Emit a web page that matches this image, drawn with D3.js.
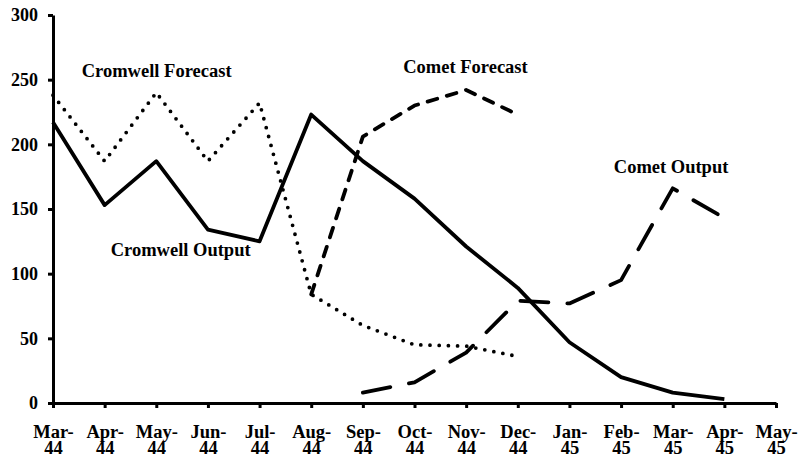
<!DOCTYPE html>
<html>
<head>
<meta charset="utf-8">
<script src="https://cdn.jsdelivr.net/npm/d3@7"></script>
<style>
  body { margin: 0; background: #fff; }
  .domain, .tick line { stroke: #000; stroke-width: 3; }
  .series { fill: none; stroke: #000; stroke-width: 3.8; stroke-linejoin: round; }
</style>
</head>
<body>
<svg id="chart" width="799" height="457"></svg>
<script>
const months = ["Mar-44","Apr-44","May-44","Jun-44","Jul-44","Aug-44","Sep-44","Oct-44",
                "Nov-44","Dec-44","Jan-45","Feb-45","Mar-45","Apr-45","May-45"];

const cromwellOutput   = [217,153,187,134,125,223,187,158,121,89,47,20,8,3,null];
const cromwellForecast = [238,187,240,187,232,84,60,45,44,36,null,null,null,null,null];
const cometForecast    = [null,null,null,null,null,84,206,230,242,223,null,null,null,null,null];
const cometOutput      = [null,null,null,null,null,null,8,16,39,79,77,95,166,143,null];

const yTicks = [0,50,100,150,200,250,300];

const labels = [
  {text:"Cromwell Forecast", month:"Apr-44", v:252, dx:52},
  {text:"Cromwell Output",   month:"Apr-44", v:114, dx:76},
  {text:"Comet Forecast",    month:"Oct-44", v:255, dx:51},
  {text:"Comet Output",      month:"Feb-45", v:178, dx:50}
];

const FONT = "'Liberation Serif', 'Times New Roman', Times, serif";

const svg = d3.select("#chart");

const x = d3.scalePoint().domain(months).range([53, 776]);
const y = d3.scaleLinear().domain([0, 300]).range([403, 15]);

// axes
const yAxis = svg.append("g").attr("transform", "translate(53,0)")
  .call(d3.axisLeft(y).tickValues(yTicks).tickSize(5).tickSizeOuter(0).tickPadding(10));
yAxis.attr("font-family", null);
yAxis.selectAll("text")
  .style("font-family", FONT).style("font-weight", "bold").style("font-size", "18px")
  .attr("fill", "#000");

const xAxis = svg.append("g").attr("transform", "translate(0,403)")
  .call(d3.axisBottom(x).tickSize(5).tickSizeOuter(0).tickFormat(""));
xAxis.attr("font-family", null);
xAxis.selectAll(".tick").each(function(d) {
  const parts = d.split("-");
  const t = d3.select(this).append("text")
    .attr("text-anchor", "middle")
    .style("font-family", FONT).style("font-weight", "bold").style("font-size", "18.5px")
    .attr("fill", "#000");
  t.append("tspan").attr("x", 0).attr("y", 35).text(parts[0] + "-");
  t.append("tspan").attr("x", 0).attr("y", 50.5).text(parts[1]);
});

// series
const line = d3.line()
  .defined(d => d.v != null)
  .x(d => x(d.m))
  .y(d => y(d.v));

function draw(values, dash) {
  svg.append("path")
    .attr("class", "series")
    .attr("d", line(values.map((v, i) => ({m: months[i], v}))))
    .attr("stroke-dasharray", dash)
    .attr("stroke-linecap", dash ? "round" : "butt");
}

draw(cromwellOutput, null);
draw(cromwellForecast, "0,9.2");
draw(cometForecast, "10,10");
draw(cometOutput, "28,19");

// labels
labels.forEach(l => {
  svg.append("text")
    .attr("x", x(l.month) + l.dx)
    .attr("y", y(l.v))
    .attr("text-anchor", "middle")
    .style("font-family", FONT).style("font-weight", "bold").style("font-size", "18.5px")
    .text(l.text);
});
</script>
</body>
</html>
